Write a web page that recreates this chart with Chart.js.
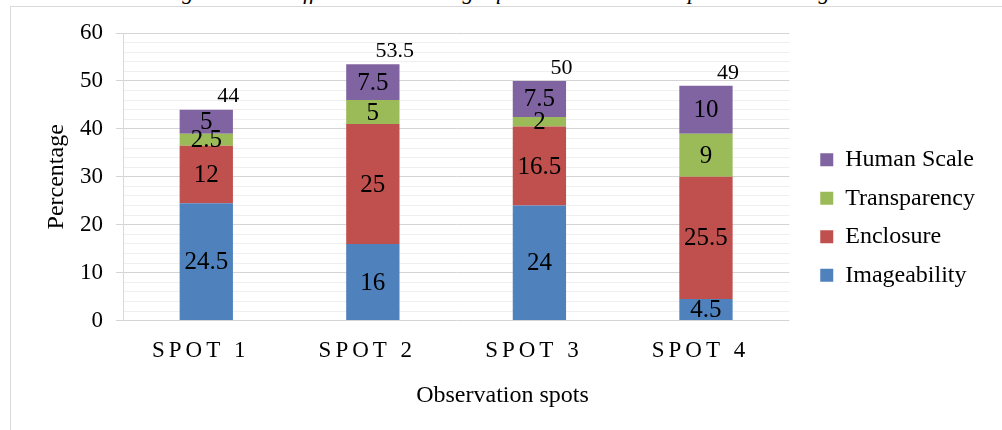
<!DOCTYPE html>
<html>
<head>
<meta charset="utf-8">
<script src="https://cdn.jsdelivr.net/npm/chart.js@4.4.1/dist/chart.umd.min.js"></script>
<style>
  html, body { margin: 0; padding: 0; background: #fff; }
  #wrap { position: relative; width: 1002px; height: 430px; overflow: hidden; }
  #frame { position: absolute; left: 10px; top: 6px; right: -2px; bottom: -2px;
           border-left: 1px solid #d9d9d9; border-top: 1px solid #d9d9d9; }
  #caption { position: absolute; left: 0; width: 1002px; top: -21px; text-align: center;
             font-family: "Liberation Serif", "Times New Roman", serif; font-style: italic;
             font-size: 22.5px; line-height: normal; color: #000; white-space: nowrap; }
  canvas { position: absolute; left: 0; top: 0; }
</style>
</head>
<body>
<div id="wrap">
  <div id="frame"></div>
  <div id="caption">Figure 4.10: Different urban design qualities and their respective coverage</div>
  <canvas id="c" width="1002" height="430"></canvas>
</div>
<script>
const categories = ["SPOT 1", "SPOT 2", "SPOT 3", "SPOT 4"];
const imageability = [24.5, 16, 24, 4.5];
const enclosure = [12, 25, 16.5, 25.5];
const transparency = [2.5, 5, 2, 9];
const humanScale = [5, 7.5, 7.5, 10];
const totals = [44, 53.5, 50, 49];
const yTickValues = [0, 10, 20, 30, 40, 50, 60];

const SERIF = '"Liberation Serif", "Times New Roman", serif';

const labelPlugin = {
  id: 'labels',
  beforeDraw(chart) {
    const xs = chart.scales.x;
    if (xs && !xs._spaced) {
      const orig = xs.drawLabels;
      xs.drawLabels = function (area) {
        const ctx = this.ctx;
        ctx.save();
        ctx.letterSpacing = '4px';
        ctx.translate(-5.5, 0);
        orig.call(this, area);
        ctx.restore();
      };
      xs._spaced = true;
    }
  },
  afterDatasetsDraw(chart) {
    const ctx = chart.ctx;
    ctx.save();
    ctx.fillStyle = '#000';
    ctx.textAlign = 'center';
    ctx.textBaseline = 'middle';
    ctx.font = '25px ' + SERIF;
    chart.data.datasets.forEach((ds, di) => {
      const meta = chart.getDatasetMeta(di);
      meta.data.forEach((el, i) => {
        const v = ds.data[i];
        ctx.fillText(String(v), el.x, (el.y + el.base) / 2 + 1);
      });
    });
    ctx.font = '22px ' + SERIF;
    const xs = chart.scales.x, ys = chart.scales.y;
    totals.forEach((t, i) => {
      ctx.fillText(String(t), xs.getPixelForValue(i) + 22, ys.getPixelForValue(t) - 13);
    });
    ctx.restore();
  }
};

new Chart(document.getElementById('c'), {
  type: 'bar',
  data: {
    labels: categories,
    datasets: [
      { label: 'Imageability', data: imageability, backgroundColor: '#4F81BD' },
      { label: 'Enclosure', data: enclosure, backgroundColor: '#C0504D' },
      { label: 'Transparency', data: transparency, backgroundColor: '#9BBB59' },
      { label: 'Human Scale', data: humanScale, backgroundColor: '#8064A2' }
    ]
  },
  options: {
    responsive: false,
    animation: false,
    devicePixelRatio: 1,
    layout: { padding: { top: 5, left: 20, right: 17, bottom: 0 } },
    datasets: { bar: { categoryPercentage: 1, barPercentage: 0.32, borderWidth: 0 } },
    scales: {
      x: {
        stacked: true,
        grid: { display: false, drawTicks: false },
        border: { display: false },
        ticks: { color: '#000', font: { family: SERIF, size: 23 }, padding: 17 },
        afterFit(s) { s.height = 60.6; }
      },
      y: {
        stacked: true,
        min: 0, max: 60,
        border: { color: '#d9d9d9' },
        grid: {
          color: c => (c.tick && yTickValues.includes(c.tick.value)) ? '#d4d4d4' : '#efefef',
          tickColor: c => (c.tick && yTickValues.includes(c.tick.value)) ? '#d4d4d4' : 'rgba(0,0,0,0)',
          tickLength: 7
        },
        ticks: {
          stepSize: 2, autoSkip: false, padding: 13, color: '#000',
          font: { family: SERIF, size: 23 },
          callback: v => yTickValues.includes(v) ? String(v) : ''
        },
        title: { display: true, text: 'Percentage', color: '#000',
                 font: { family: SERIF, size: 24 }, padding: { top: 22.6, bottom: 0 } },
        afterFit(s) { s.width = 103; }
      },
      yr: {
        type: 'linear', position: 'right', display: true,
        grid: { display: false, drawTicks: false },
        border: { display: false },
        ticks: { display: false },
        afterFit(s) { s.width = 16.5; }
      }
    },
    plugins: {
      legend: {
        position: 'right', reverse: true, maxWidth: 400,
        labels: { boxWidth: 13, boxHeight: 13, padding: 14.5, color: '#000',
                  font: { family: SERIF, size: 24 } }
      },
      subtitle: {
        display: true, position: 'top', text: '',
        font: { size: 10, lineHeight: 1 }, padding: { top: 0, bottom: 18 }
      },
      title: {
        display: true, position: 'bottom', text: 'Observation spots', color: '#000',
        font: { family: SERIF, size: 24, weight: 'normal' }, padding: { top: 0, bottom: 20 }
      },
      tooltip: { enabled: false }
    }
  },
  plugins: [labelPlugin]
});
</script>
</body>
</html>
